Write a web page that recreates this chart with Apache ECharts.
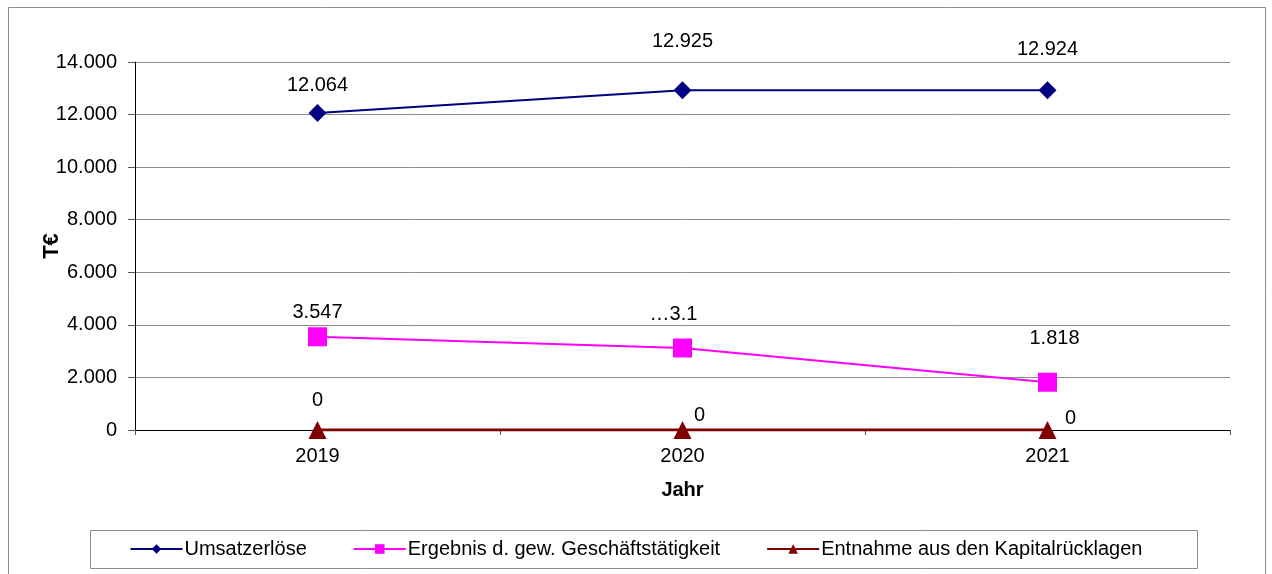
<!DOCTYPE html>
<html>
<head>
<meta charset="utf-8">
<script src="https://cdn.jsdelivr.net/npm/echarts@6/dist/echarts.min.js"></script>
<style>
  html, body { margin: 0; padding: 0; background: #fff; }
  #main { width: 1272px; height: 574px; }
</style>
</head>
<body>
<div id="main"></div>
<script>
var years = ['2019', '2020', '2021'];
var umsatz = [12064, 12925, 12924];
var ergebnis = [3547, 3120, 1818];
var entnahme = [0, 0, 0];
var yTicks = [0, 2000, 4000, 6000, 8000, 10000, 12000, 14000];

// Label-Verschiebungen relativ zum Punkt [dx, dy]
var umsatzOff = [[0, -27], [0, -49], [0, -41]];
var ergebnisOff = [[0, -24], [-9, -34], [7, -44]];
var entnahmeOff = [[0, -30], [17, -15], [23, -12]];

var fontFam = '"Liberation Sans", Arial, sans-serif';

function fmt(v) {
  return String(v).replace(/\B(?=(\d{3})+(?!\d))/g, '.');
}

function withLabels(values, offs, texts) {
  return values.map(function (v, i) {
    return {
      value: v,
      label: {
        offset: offs[i],
        formatter: texts && texts[i] ? texts[i] : fmt(v)
      }
    };
  });
}

var myChart = echarts.init(document.getElementById('main'));

var baseLabel = {
  show: true,
  position: 'inside',
  color: '#000',
  fontFamily: fontFam,
  fontSize: 20
};

var option = {
  animation: false,
  backgroundColor: '#fff',
  textStyle: { fontFamily: fontFam },
  graphic: [
    {
      type: 'rect',
      shape: { x: 8.5, y: 7.5, width: 1257, height: 600 },
      style: { fill: 'none', stroke: '#8c8c8c', lineWidth: 1 }
    },
    {
      type: 'rect',
      shape: { x: 90.5, y: 530.5, width: 1107, height: 38 },
      style: { fill: 'none', stroke: '#8c8c8c', lineWidth: 1 }
    }
  ],
  grid: {
    left: 135,
    right: 42,
    top: 62,
    bottom: 144
  },
  legend: {
    bottom: 10,
    left: 'center',
    itemWidth: 52,
    itemHeight: 12,
    itemGap: 46,
    textStyle: { fontSize: 20, color: '#000', fontFamily: fontFam, padding: [0, 0, 0, -3] },
    data: ['Umsatzerlöse', 'Ergebnis d. gew. Geschäftstätigkeit', 'Entnahme aus den Kapitalrücklagen']
  },
  xAxis: {
    type: 'category',
    data: years,
    boundaryGap: true,
    name: 'Jahr',
    nameLocation: 'middle',
    nameGap: 50,
    nameMoveOverlap: false,
    nameTextStyle: { fontWeight: 'bold', fontSize: 20, color: '#000' },
    axisLine: { lineStyle: { color: '#000', width: 1 } },
    axisTick: { show: true, length: 5, lineStyle: { color: '#555' } },
    axisLabel: { color: '#000', fontSize: 20, margin: 16 },
    splitLine: { show: false }
  },
  yAxis: {
    type: 'value',
    min: yTicks[0],
    max: yTicks[yTicks.length - 1],
    interval: 2000,
    name: 'T€',
    nameLocation: 'middle',
    nameGap: 72,
    nameMoveOverlap: false,
    nameRotate: 90,
    nameTextStyle: { fontWeight: 'bold', fontSize: 22, color: '#000' },
    axisLine: { show: true, lineStyle: { color: '#000', width: 1 } },
    axisTick: { show: true, length: 7, lineStyle: { color: '#555' } },
    axisLabel: { color: '#000', fontSize: 20, margin: 18, formatter: fmt },
    splitLine: { show: true, lineStyle: { color: '#8c8c8c', width: 1 } }
  },
  series: [
    {
      name: 'Umsatzerlöse',
      type: 'line',
      symbol: 'diamond',
      symbolSize: 18,
      itemStyle: { color: '#000080' },
      lineStyle: { color: '#000080', width: 2 },
      label: baseLabel,
      data: withLabels(umsatz, umsatzOff),
      z: 3
    },
    {
      name: 'Ergebnis d. gew. Geschäftstätigkeit',
      type: 'line',
      symbol: 'rect',
      symbolSize: 19,
      itemStyle: { color: '#ff00ff' },
      lineStyle: { color: '#ff00ff', width: 2 },
      label: baseLabel,
      data: withLabels(ergebnis, ergebnisOff, [null, '…3.1', null]),
      z: 3
    },
    {
      name: 'Entnahme aus den Kapitalrücklagen',
      type: 'line',
      symbol: 'triangle',
      symbolSize: 18,
      itemStyle: { color: '#800000' },
      lineStyle: { color: '#800000', width: 3 },
      label: baseLabel,
      data: withLabels(entnahme, entnahmeOff),
      z: 4
    }
  ]
};

myChart.setOption(option);
</script>
</body>
</html>
